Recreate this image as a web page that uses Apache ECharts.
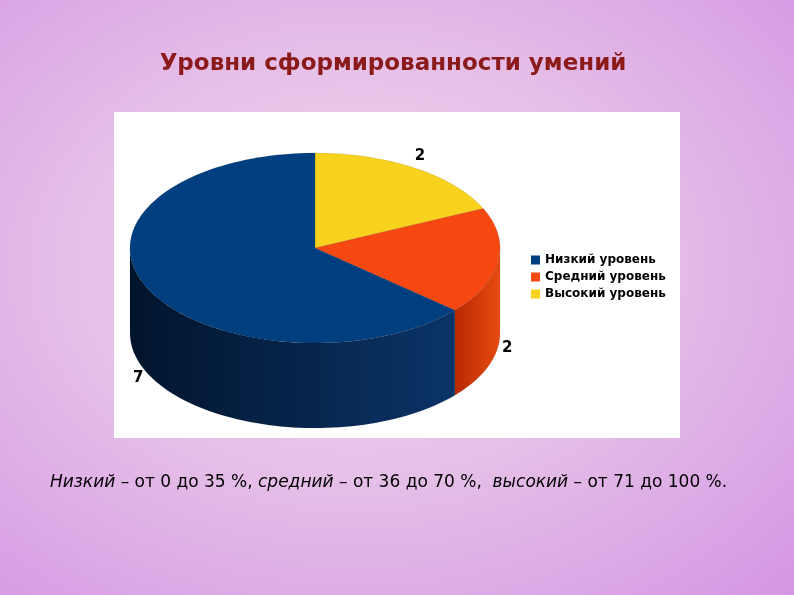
<!DOCTYPE html>
<html><head><meta charset="utf-8">
<script src="https://cdn.jsdelivr.net/npm/echarts@6/dist/echarts.min.js"></script>
<style>
html,body{margin:0;padding:0;width:794px;height:595px;overflow:hidden;}
body{background:radial-gradient(ellipse at 45% 45%, #f0d8ee 0%, #e6c0e8 45%, #d496e4 100%);}
#c{width:794px;height:595px;}
</style></head><body><div id="c"></div>
<script>
const categories = ['Низкий уровень','Средний уровень','Высокий уровень'];
const values = [7, 2, 2];
const drawOrder = [2, 1, 0]; // clockwise from 12 o'clock
const topColors = ['#003f7f', '#f84812', '#f8d21c'];
const sideColors = [['#01142c','#0b3468'], ['#b82a04','#e84a10'], ['#c09000','#e0b010']];
const title = 'Уровни сформированности умений';

const CX = 315, CY = 248, RX = 185, RY = 95, DEPTH = 85;
const total = values.reduce((a,b)=>a+b,0);
function angles(i){
  let s = 0;
  for (const j of drawOrder){ if (j===i) break; s += values[j]; }
  const a1 = -90 + s/total*360, a2 = a1 + values[i]/total*360;
  return [a1, a2];
}
function pt(deg, dy){ const r = deg*Math.PI/180; return [CX+RX*Math.cos(r), CY+RY*Math.sin(r)+(dy||0)]; }
function arc(a1,a2,dy){ const p=[]; const n=Math.max(2,Math.ceil((a2-a1)/2)); for(let k=0;k<=n;k++) p.push(pt(a1+(a2-a1)*k/n,dy)); return p; }

function sideSeries(i){
  return {type:'custom', name:'side'+i, coordinateSystem:'none', silent:true, z:2,
    data:[[values[i]]],
    renderItem(params, api){
      const [a1,a2] = angles(i);
      const s = Math.max(a1,0), e = Math.min(a2,180);
      if (e <= s) return {type:'group', children:[]};
      const top = arc(s,e,0), bot = arc(s,e,DEPTH).reverse();
      return {type:'polygon', shape:{points: top.concat(bot)},
        style:{fill: new echarts.graphic.LinearGradient(0,0,1,0,[{offset:0,color:sideColors[i][0]},{offset:1,color:sideColors[i][1]}]), stroke:'rgba(0,0,0,0.15)', lineWidth:0.5}};
    }};
}
function topSeries(i){
  return {type:'custom', name:categories[i], coordinateSystem:'none', z:3,
    itemStyle:{color:topColors[i]},
    data:[[values[i]]],
    renderItem(params, api){
      const [a1,a2] = angles(i);
      const pts = [[CX,CY]].concat(arc(a1,a2,0));
      const mid = (a1+a2)/2*Math.PI/180;
      const s = Math.sin(mid);
      const lx = CX + RX*1.05*Math.cos(mid), ly = CY + RY*1.15*s + (s>0?DEPTH:0);
      return {type:'group', children:[
        {type:'polygon', shape:{points:pts}, style:{fill:topColors[i], stroke:'rgba(0,0,0,0.2)', lineWidth:0.5}},
        {type:'text', z2:10, style:{text:String(api.value(0)), x:lx, y:ly, textAlign:'center', textVerticalAlign:'middle', fill:'#000', font:'bold 15px DejaVu Sans'}}
      ]};
    }};
}

const series = [];
drawOrder.forEach(i=>series.push(sideSeries(i)));
drawOrder.forEach(i=>series.push(topSeries(i)));

const chart = echarts.init(document.getElementById('c'));
chart.setOption({
  backgroundColor:'transparent',
  animation:false,
  title:{text:title, left:388, top:48, textAlign:'center', textStyle:{color:'#8b1a1a', fontSize:23, fontWeight:'bold', fontFamily:'DejaVu Sans'}},
  legend:{data:categories, orient:'vertical', left:526, top:249, itemWidth:9, itemHeight:9, itemGap:5, icon:'rect',
    textStyle:{fontSize:12, fontWeight:'bold', color:'#000', fontFamily:'DejaVu Sans'}},
  graphic:[
    {type:'rect', z:-10, shape:{x:114,y:112,width:566,height:326}, style:{fill:'#fff'}},
    {type:'text', left:50, top:474, style:{
      text:'{i|Низкий} – от 0 до 35 %, {i|средний} – от 36 до 70 %,  {i|высокий} – от 71 до 100 %.',
      font:'17px DejaVu Sans', fill:'#000',
      rich:{i:{fontStyle:'italic', fontSize:17, fontFamily:'DejaVu Sans'}}}}
  ],
  series
});
</script></body></html>
